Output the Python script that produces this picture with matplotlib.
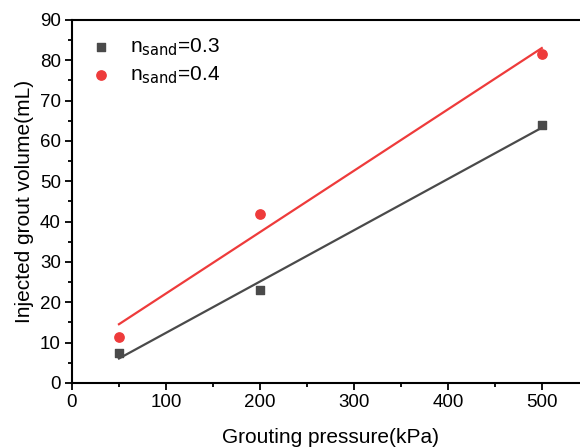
import numpy as np
import matplotlib.pyplot as plt
from matplotlib.ticker import MultipleLocator

plt.rcParams['font.family'] = ['Liberation Sans', 'DejaVu Sans']

# grouting pressure (kPa) and injected volume (mL)
pressure = [50, 200, 500]
vol_03 = [7.5, 23, 64]
vol_04 = [11.5, 42, 81.5]

c_03 = "#4a4a4a"
c_04 = "#ee3b3b"

fig = plt.figure(figsize=(5.8, 4.48), dpi=100)
ax = fig.add_axes([0.1241, 0.1451, 0.891, 0.8103])

ax.scatter(pressure, vol_03, marker="s", s=40, color=c_03, zorder=3,
           label=r"n$_{\rm sand}$=0.3")
ax.scatter(pressure, vol_04, marker="o", s=45, color=c_04, zorder=3,
           label=r"n$_{\rm sand}$=0.4")

# linear fits
xs = np.array([min(pressure), max(pressure)])
for vals, c in [(vol_03, c_03), (vol_04, c_04)]:
    k, b = np.polyfit(pressure, vals, 1)
    ax.plot(xs, k * xs + b, color=c, linewidth=1.6, zorder=2)

ax.set_xlim(0, 550)
ax.set_ylim(0, 90)
ax.xaxis.set_major_locator(MultipleLocator(100))
ax.xaxis.set_minor_locator(MultipleLocator(50))
ax.yaxis.set_major_locator(MultipleLocator(10))
ax.yaxis.set_minor_locator(MultipleLocator(5))
ax.tick_params(which="major", direction="out", length=5, width=1.3,
               labelsize=13.5, pad=3)
ax.tick_params(which="minor", direction="out", length=3, width=1.3)
for s in ax.spines.values():
    s.set_linewidth(1.5)

ax.set_xlabel("Grouting pressure(kPa)", fontsize=15, labelpad=12)
ax.set_ylabel("Injected grout volume(mL)", fontsize=15, labelpad=4)

ax.legend(loc="upper left", frameon=False, fontsize=15, handletextpad=0.4,
          borderaxespad=0.3, labelspacing=0.3, bbox_to_anchor=(-0.013, 0.994))

fig.savefig("out.png", dpi=100)
